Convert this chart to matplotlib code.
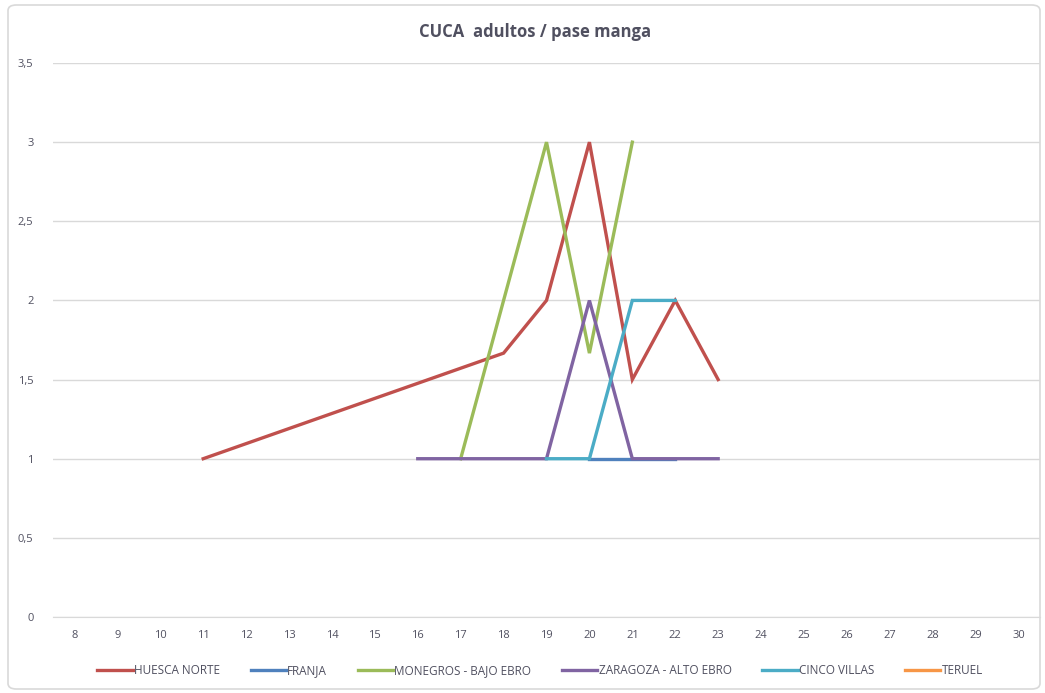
import numpy as np
import matplotlib.pyplot as plt
from matplotlib.patches import FancyBboxPatch

weeks = list(range(8, 31))

huesca_x = [11, 18, 19, 20, 21, 22, 23]
huesca_y = [1, 1.667, 2, 3, 1.5, 2, 1.5]
franja_x = [20, 21, 22]
franja_y = [1, 1, 1]
monegros_x = [17, 18, 19, 20, 21]
monegros_y = [1, 2, 3, 1.667, 3]
zaragoza_x = [16, 17, 18, 19, 20, 21, 22, 23]
zaragoza_y = [1, 1, 1, 1, 2, 1, 1, 1]
cinco_x = [19, 20, 21, 22]
cinco_y = [1, 1, 2, 2]
teruel_x = []
teruel_y = []

series = [
    ('HUESCA NORTE', huesca_x, huesca_y, '#C0504D'),
    ('FRANJA', franja_x, franja_y, '#4F81BD'),
    ('MONEGROS - BAJO EBRO', monegros_x, monegros_y, '#9BBB59'),
    ('ZARAGOZA - ALTO EBRO', zaragoza_x, zaragoza_y, '#8064A2'),
    ('CINCO VILLAS', cinco_x, cinco_y, '#4BACC6'),
    ('TERUEL', teruel_x, teruel_y, '#F79646'),
]

plt.rcParams['font.family'] = ['Open Sans', 'DejaVu Sans']

fig = plt.figure(figsize=(10.45, 6.93), dpi=100)
ax = fig.add_axes([53 / 1045, 1 - 617 / 693, (1040 - 53) / 1045, (617 - 63) / 693])

# chart border
fig.patches.append(FancyBboxPatch((8 / 1045, 4 / 693), 1032 / 1045, 684 / 693,
                                  boxstyle='round,pad=0,rounding_size=0.008',
                                  transform=fig.transFigure, fill=False,
                                  edgecolor='#D9D9D9', lw=1.2))

for name, xs, ys, c in series:
    ax.plot(xs, ys, color=c, lw=2.4, label=name, solid_joinstyle='miter')

ax.set_xlim(7.5, 30.5)
ax.set_ylim(0, 3.5)
ax.set_xticks(weeks)
ax.set_xticklabels([str(w) for w in weeks])
yt = np.arange(0, 3.51, 0.5)
ax.set_yticks(yt)
ax.set_yticklabels([('%g' % v).replace('.', ',') for v in yt])
ax.grid(axis='y', color='#D9D9D9', lw=1)
ax.set_axisbelow(True)
for s in ['top', 'right', 'left']:
    ax.spines[s].set_visible(False)
ax.spines['bottom'].set_color('#D9D9D9')
ax.tick_params(length=0, labelsize=8, colors='#505060')
ax.tick_params(axis='y', pad=14)
ax.tick_params(axis='x', pad=9)

fig.text(535 / 1045, 1 - 32 / 693, 'CUCA  adultos / pase manga', ha='center', va='center',
         fontsize=12, fontweight='bold', color='#505060')

fig.legend(loc='center', bbox_to_anchor=(540 / 1045, 1 - 671 / 693), ncol=6, frameon=False,
           fontsize=8.5, labelcolor='#505060', handlelength=3.0, handletextpad=0.1,
           columnspacing=2.6)

fig.savefig('out.png', dpi=100)
